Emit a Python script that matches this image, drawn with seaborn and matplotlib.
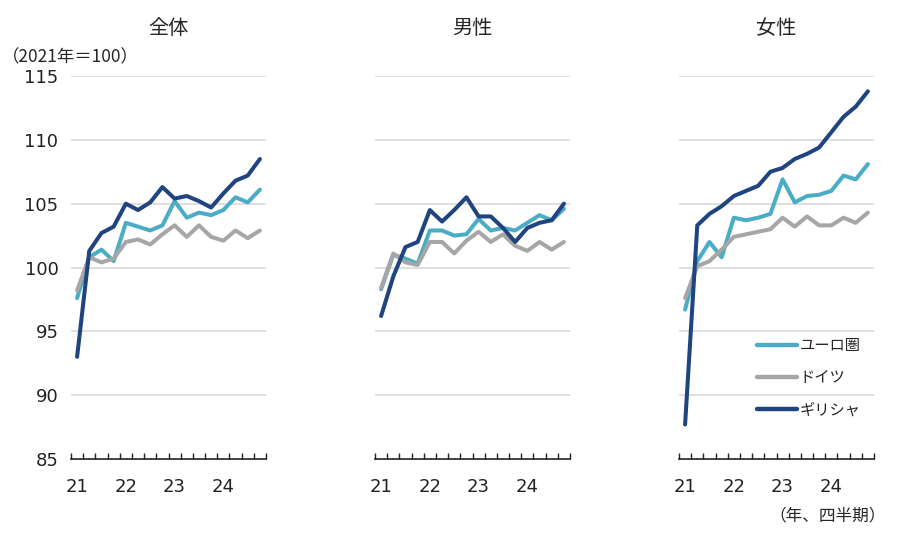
import numpy as np
import pandas as pd
import seaborn as sns
import matplotlib.pyplot as plt

# quarterly index, 2021Q1 - 2024Q4 (2021 = 100)
quarters = list(range(16))
year_labels = ["21", "22", "23", "24"]
series_names = ["ユーロ圏", "ドイツ", "ギリシャ"]
panel_titles = ["全体", "男性", "女性"]

total_euro = [97.6, 100.8, 101.4, 100.5, 103.5, 103.2, 102.9, 103.3, 105.2, 103.9, 104.3, 104.1, 104.5, 105.5, 105.1, 106.1]
total_de = [98.2, 100.8, 100.4, 100.7, 102.0, 102.2, 101.8, 102.6, 103.3, 102.4, 103.3, 102.4, 102.1, 102.9, 102.3, 102.9]
total_gr = [93.0, 101.3, 102.7, 103.2, 105.0, 104.5, 105.1, 106.3, 105.4, 105.6, 105.2, 104.7, 105.8, 106.8, 107.2, 108.5]

male_euro = [98.3, 101.0, 100.7, 100.3, 102.9, 102.9, 102.5, 102.6, 103.8, 102.9, 103.1, 102.9, 103.5, 104.1, 103.7, 104.6]
male_de = [98.4, 101.1, 100.4, 100.2, 102.0, 102.0, 101.1, 102.1, 102.8, 102.0, 102.6, 101.7, 101.3, 102.0, 101.4, 102.0]
male_gr = [96.2, 99.3, 101.6, 102.0, 104.5, 103.6, 104.5, 105.5, 104.0, 104.0, 103.1, 102.0, 103.1, 103.5, 103.7, 105.0]

female_euro = [96.7, 100.5, 102.0, 100.8, 103.9, 103.7, 103.9, 104.2, 106.9, 105.1, 105.6, 105.7, 106.0, 107.2, 106.9, 108.1]
female_de = [97.6, 100.1, 100.5, 101.4, 102.4, 102.6, 102.8, 103.0, 103.9, 103.2, 104.0, 103.3, 103.3, 103.9, 103.5, 104.3]
female_gr = [87.7, 103.3, 104.2, 104.8, 105.6, 106.0, 106.4, 107.5, 107.8, 108.5, 108.9, 109.4, 110.6, 111.8, 112.6, 113.8]

panels = [
    (total_euro, total_de, total_gr),
    (male_euro, male_de, male_gr),
    (female_euro, female_de, female_gr),
]

colors = {"ユーロ圏": "#4bacc6", "ドイツ": "#a6a6a6", "ギリシャ": "#1f4480"}

sns.set_theme(style="white")
plt.rcParams["font.family"] = ["DejaVu Sans", "Noto Sans CJK JP"]
jp = ["Noto Sans CJK JP", "DejaVu Sans"]

fig = plt.figure(figsize=(9, 5.36), dpi=100)
lefts = [71 / 900, 375 / 900, 679 / 900]
bottom = (536 - 459) / 536
height = 383 / 536
width = 195 / 900

for k, (vals, title) in enumerate(zip(panels, panel_titles)):
    ax = fig.add_axes([lefts[k], bottom, width, height])
    df = pd.DataFrame({
        "q": quarters * 3,
        "value": list(vals[0]) + list(vals[1]) + list(vals[2]),
        "series": [n for n in series_names for _ in quarters],
    })
    sns.lineplot(data=df, x="q", y="value", hue="series", hue_order=series_names,
                 palette=colors, linewidth=2.9, ax=ax, legend=(k == 2))

    ax.set_xlim(-0.5, 15.5)
    ax.set_ylim(85, 115)
    ax.set_yticks(range(85, 116, 5))
    for yv in range(90, 116, 5):
        ax.axhline(yv, color="#d9d9d9", linewidth=1.2, zorder=0)
    if k == 0:
        ax.set_yticklabels([str(v) for v in range(85, 116, 5)], fontsize=13, color="#222222")
    else:
        ax.set_yticklabels([])
    ax.tick_params(axis="y", length=0, pad=9)

    ax.set_xticks([0, 4, 8, 12])
    ax.set_xticklabels(year_labels, fontsize=13, color="#222222")
    ax.set_xticks(np.arange(-0.5, 16, 1), minor=True)
    ax.tick_params(axis="x", which="major", length=0, pad=14)
    ax.tick_params(axis="x", which="minor", direction="in", length=4, width=1, color="#222222", bottom=True)

    for side in ["left", "right", "top"]:
        ax.spines[side].set_visible(False)
    ax.spines["bottom"].set_color("#222222")
    ax.spines["bottom"].set_linewidth(1.2)

    ax.set_xlabel("")
    ax.set_ylabel("")
    ax.set_title(title, fontsize=14.5, family=jp, pad=30)

    if k == 2:
        leg = ax.legend(loc="lower left", bbox_to_anchor=(0.33, 0.07), frameon=False,
                        handlelength=2.6, labelspacing=1.0, handletextpad=0.2,
                        prop={"family": jp, "size": 11})
        for line in leg.get_lines():
            line.set_linewidth(3.2)

fig.text(2 / 900, 1 - 57 / 536, "（2021年＝100）", fontsize=12.5, family=jp, va="center", ha="left")
fig.text(886 / 900, 1 - 516 / 536, "（年、四半期）", fontsize=12, family=jp, va="center", ha="right")

fig.savefig("out.png", dpi=100, facecolor="white")
